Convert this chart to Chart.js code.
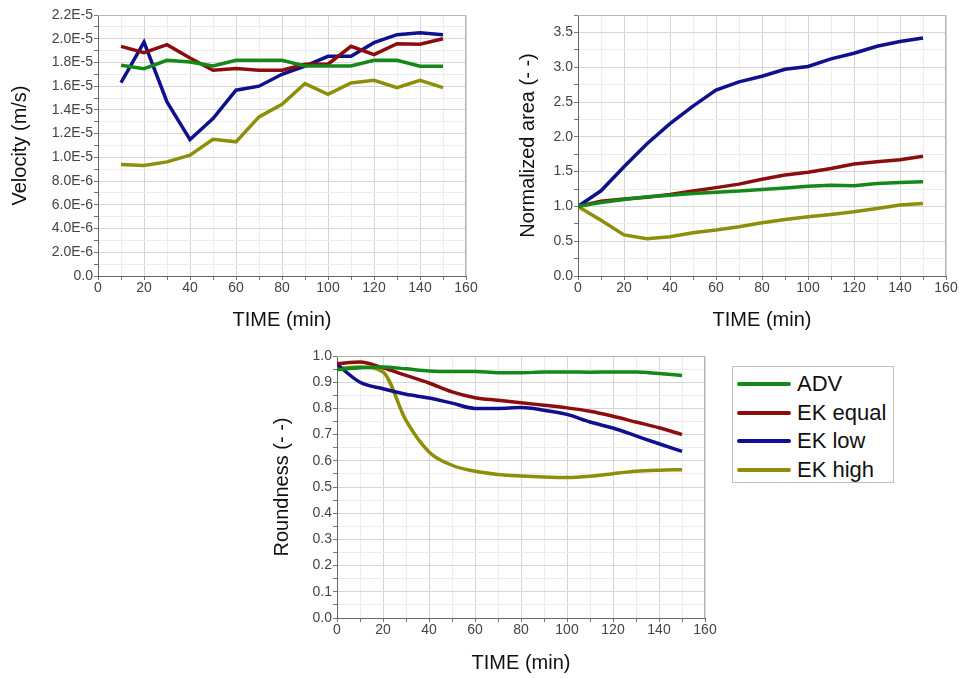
<!DOCTYPE html>
<html>
<head>
<meta charset="utf-8">
<script src="https://cdn.jsdelivr.net/npm/chart.js@4"></script>
<style>
  body { margin: 0; background: #fff; width: 959px; height: 678px; position: relative; overflow: hidden; font-family: "Liberation Sans", Arial, sans-serif; }
  .box { position: absolute; }
  #legend { position: absolute; left: 732px; top: 366px; width: 160px; height: 115px; border: 1px solid #c0c0c0; }
  #legend .row { position: absolute; left: 4px; height: 28px; }
  #legend .ln { position: absolute; left: 0; top: 12px; width: 54px; height: 4px; border-radius: 2px; }
  #legend .tx { position: absolute; left: 60px; top: 0; font-size: 22px; line-height: 28px; color: #111; white-space: nowrap; }
</style>
</head>
<body>
<div class="box" style="left:0;top:0;width:480px;height:340px"><canvas id="velocidad"></canvas></div>
<div class="box" style="left:480px;top:0;width:479px;height:340px"><canvas id="area"></canvas></div>
<div class="box" style="left:260px;top:340px;width:460px;height:338px"><canvas id="redondez"></canvas></div>
<div id="legend"></div>
<script>
// series names and colours
const names = ['ADV', 'EK equal', 'EK low', 'EK high'];
const colors = ['#14891a', '#8c0d0d', '#10108f', '#8e8e0a'];

// velocity (m/s), 10..150 min
const timeVel = [10, 20, 30, 40, 50, 60, 70, 80, 90, 100, 110, 120, 130, 140, 150];
const velAdv = [1.776e-5, 1.748e-5, 1.818e-5, 1.804e-5, 1.770e-5, 1.818e-5, 1.818e-5, 1.818e-5, 1.770e-5, 1.770e-5, 1.770e-5, 1.818e-5, 1.818e-5, 1.768e-5, 1.768e-5];
const velEqual = [1.936e-5, 1.883e-5, 1.950e-5, 1.838e-5, 1.734e-5, 1.748e-5, 1.734e-5, 1.734e-5, 1.785e-5, 1.785e-5, 1.936e-5, 1.866e-5, 1.958e-5, 1.953e-5, 2.000e-5];
const velLow = [1.630e-5, 1.972e-5, 1.467e-5, 1.150e-5, 1.327e-5, 1.566e-5, 1.600e-5, 1.700e-5, 1.770e-5, 1.852e-5, 1.852e-5, 1.967e-5, 2.034e-5, 2.051e-5, 2.034e-5];
const velHigh = [0.940e-5, 0.932e-5, 0.962e-5, 1.019e-5, 1.153e-5, 1.131e-5, 1.341e-5, 1.448e-5, 1.622e-5, 1.532e-5, 1.627e-5, 1.650e-5, 1.588e-5, 1.650e-5, 1.588e-5];

// normalized area, 0..150 min
const timeArea = [0, 10, 20, 30, 40, 50, 60, 70, 80, 90, 100, 110, 120, 130, 140, 150];
const areaAdv = [1.0, 1.057, 1.10, 1.14, 1.16, 1.186, 1.205, 1.22, 1.243, 1.263, 1.29, 1.305, 1.296, 1.33, 1.344, 1.353];
const areaEqual = [1.0, 1.076, 1.105, 1.13, 1.17, 1.22, 1.27, 1.32, 1.39, 1.45, 1.49, 1.545, 1.61, 1.64, 1.67, 1.72];
const areaLow = [1.0, 1.224, 1.57, 1.90, 2.19, 2.44, 2.67, 2.79, 2.87, 2.97, 3.01, 3.12, 3.20, 3.30, 3.37, 3.42];
const areaHigh = [1.0, 0.80, 0.59, 0.536, 0.565, 0.62, 0.66, 0.708, 0.765, 0.813, 0.85, 0.885, 0.923, 0.97, 1.02, 1.043];

// roundness, 0..150 min
const timeRound = [0, 10, 20, 30, 40, 50, 60, 70, 80, 90, 100, 110, 120, 130, 140, 150];
const roundAdv = [0.948, 0.955, 0.958, 0.951, 0.943, 0.941, 0.941, 0.936, 0.936, 0.939, 0.939, 0.938, 0.939, 0.939, 0.933, 0.926];
const roundEqual = [0.971, 0.977, 0.955, 0.926, 0.897, 0.863, 0.841, 0.831, 0.822, 0.812, 0.802, 0.789, 0.770, 0.748, 0.726, 0.700];
const roundLow = [0.968, 0.900, 0.875, 0.854, 0.840, 0.820, 0.800, 0.800, 0.803, 0.793, 0.777, 0.748, 0.725, 0.695, 0.665, 0.636];
const roundHigh = [0.952, 0.958, 0.939, 0.754, 0.634, 0.583, 0.560, 0.548, 0.542, 0.538, 0.536, 0.541, 0.551, 0.560, 0.564, 0.566];

const fontName = "'Liberation Sans', Arial, sans-serif";

function pts(xs, ys) {
  return xs.map((x, i) => ({ x: x, y: ys[i] }));
}

function makeSets(xs, series, tension) {
  return series.map((s, i) => ({
    label: names[i],
    data: pts(xs, s),
    borderColor: colors[i],
    backgroundColor: colors[i],
    borderWidth: 3.5,
    pointRadius: 0,
    tension: tension,
    cubicInterpolationMode: tension ? 'monotone' : 'default'
  }));
}

function fmtE(v) {
  if (Math.abs(v) < 1e-12) return '0.0';
  let e = Math.floor(Math.log10(v) + 1e-9);
  let m = v / Math.pow(10, e);
  return m.toFixed(1) + 'E' + e;
}

// light grey frame on top and right of the plot area
const frame = {
  id: 'frame',
  beforeDatasetsDraw(chart) {
    const a = chart.chartArea, c = chart.ctx;
    c.save();
    c.strokeStyle = '#b4b4b4';
    c.lineWidth = 1;
    c.beginPath();
    c.moveTo(a.left, a.top + 0.5);
    c.lineTo(a.right - 0.5, a.top + 0.5);
    c.lineTo(a.right - 0.5, a.bottom);
    c.stroke();
    c.restore();
  }
};

function xScale(titlePad, h) {
  return {
    type: 'linear', min: 0, max: 160,
    afterFit: s => { s.height = h; },
    ticks: {
      stepSize: 10, autoSkip: false, maxRotation: 0, padding: 0, maxTicksLimit: 100,
      color: '#444', font: { family: fontName, size: 14 },
      callback: v => (v % 20 === 0 ? String(v) : '')
    },
    grid: {
      color: c => (c.tick && c.tick.value % 20 === 0 ? '#d6d6d6' : '#ededed'),
      tickColor: '#777', tickLength: 4
    },
    border: { color: '#666', width: 1 },
    title: { display: true, text: 'TIME (min)', color: '#111', font: { family: fontName, size: 20 }, padding: { top: 0, bottom: titlePad } }
  };
}

function yScale(opts) {
  return {
    type: 'linear', min: 0, max: opts.max,
    afterFit: s => { s.width = opts.w; },
    ticks: {
      stepSize: opts.step, autoSkip: false, padding: 1, maxTicksLimit: 100,
      color: '#444', font: { family: fontName, size: 14 },
      callback: opts.label
    },
    grid: {
      color: c => (c.tick && opts.major(c.tick.value) ? '#d6d6d6' : '#ededed'),
      tickColor: '#777', tickLength: 4
    },
    border: { color: '#666', width: 1 },
    title: { display: true, text: opts.title, color: '#111', font: { family: fontName, size: 20 }, padding: { top: opts.titlePad, bottom: 0 } }
  };
}

function baseOptions(pad, xs, ys) {
  return {
    responsive: true,
    maintainAspectRatio: false,
    animation: false,
    layout: { padding: pad },
    plugins: { legend: { display: false }, tooltip: { enabled: false } },
    scales: { x: xs, y: ys }
  };
}

// velocity chart
new Chart(document.getElementById('velocidad'), {
  type: 'line',
  data: { datasets: makeSets(timeVel, [velAdv, velEqual, velLow, velHigh], 0) },
  options: baseOptions({ top: 15, right: 14, left: 0, bottom: 0 },
    xScale(8, 64),
    yScale({
      max: 2.2e-5, step: 1e-6, w: 98, title: 'Velocity (m/s)', titlePad: 8,
      major: v => Math.round(v / 1e-6) % 2 === 0,
      label: v => { const n = Math.round(v / 1e-6); return n % 2 ? '' : fmtE(n * 1e-6); }
    })),
  plugins: [frame]
});

// normalized area chart
new Chart(document.getElementById('area'), {
  type: 'line',
  data: { datasets: makeSets(timeArea, [areaAdv, areaEqual, areaLow, areaHigh], 0) },
  options: baseOptions({ top: 15, right: 13, left: 0, bottom: 0 },
    xScale(8, 64),
    yScale({
      max: 3.75, step: 0.25, w: 98, title: 'Normalized area (- -)', titlePad: 36,
      major: v => Math.round(v / 0.25) % 2 === 0,
      label: v => { const n = Math.round(v / 0.25); return n % 2 ? '' : (n * 0.25).toFixed(1); }
    })),
  plugins: [frame]
});

// roundness chart
new Chart(document.getElementById('redondez'), {
  type: 'line',
  data: { datasets: makeSets(timeRound, [roundAdv, roundEqual, roundLow, roundHigh], 0.3) },
  options: baseOptions({ top: 16, right: 15, left: 0, bottom: 0 },
    xScale(3, 60),
    yScale({
      max: 1.0, step: 0.05, w: 77, title: 'Roundness (- -)', titlePad: 10,
      major: v => Math.round(v / 0.05) % 2 === 0,
      label: v => { const n = Math.round(v / 0.05); return n % 2 ? '' : (n * 0.05).toFixed(1); }
    })),
  plugins: [frame]
});

// legend box
const leg = document.getElementById('legend');
names.forEach((n, i) => {
  const row = document.createElement('div');
  row.className = 'row';
  row.style.top = (3 + i * 28.7) + 'px';
  row.innerHTML = '<span class="ln" style="background:' + colors[i] + '"></span><span class="tx">' + n + '</span>';
  leg.appendChild(row);
});
</script>
</body>
</html>
